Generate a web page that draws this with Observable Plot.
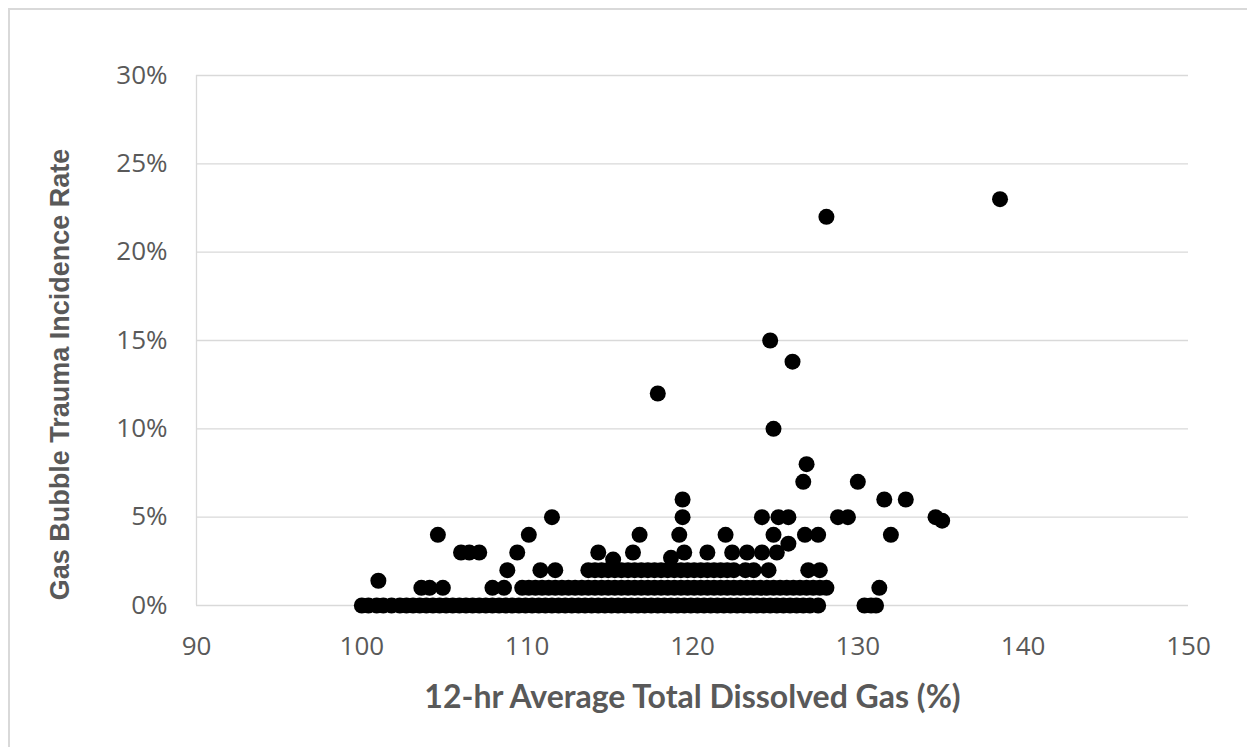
<!DOCTYPE html>
<html><head><meta charset="utf-8">
<script src="https://cdn.jsdelivr.net/npm/d3@7"></script>
<script src="https://cdn.jsdelivr.net/npm/@observablehq/plot@0.6"></script>
<style>
body{margin:0;background:#fff;overflow:hidden;}
#frame{position:absolute;left:8px;top:8px;width:1300px;height:800px;border-left:2px solid #d9d9d9;border-top:2px solid #d9d9d9;}
#chart{position:absolute;left:0;top:0;}
</style></head><body>
<div id="frame"></div><div id="chart"></div>
<script>
const xTicks = [90, 100, 110, 120, 130, 140, 150];
const yTicks = [0, 0.05, 0.10, 0.15, 0.20, 0.25, 0.30];
const xTitle = "12-hr Average Total Dissolved Gas (%)";
const yTitle = "Gas Bubble Trauma Incidence Rate";

// TDG (%) values of points at each incidence level
const tdgAt0 = [100.0,100.4,100.9,101.3,101.8,102.3,102.7,103.1,103.5,103.9,104.3,104.7,105.1,105.5,105.9,106.3,106.7,107.1,107.5,107.9,108.3,108.7,109.1,109.5,109.9,110.3,110.7,111.1,111.5,111.9,112.3,112.7,113.1,113.5,113.9,114.3,114.7,115.1,115.5,115.9,116.3,116.7,117.1,117.5,117.9,118.3,118.7,119.1,119.5,119.9,120.3,120.7,121.1,121.5,121.9,122.3,122.7,123.1,123.5,123.9,124.3,124.7,125.1,125.5,125.9,126.3,126.7,127.1,127.6,130.4,130.8,131.1];
const tdgAt1 = [103.6,104.1,104.9,107.9,108.6,109.7,110.1,110.5,110.9,111.3,111.7,112.1,112.5,112.9,113.3,113.7,114.1,114.5,114.9,115.3,115.7,116.1,116.5,116.9,117.3,117.7,118.1,118.5,118.9,119.3,119.7,120.1,120.5,120.9,121.3,121.7,122.1,122.5,122.9,123.3,123.7,124.1,124.5,124.9,125.3,125.7,126.1,126.5,126.9,127.3,127.7,128.1,131.3];
const tdgAt2 = [108.8,110.8,111.7,113.7,114.1,114.5,114.9,115.3,115.7,116.1,116.5,116.9,117.3,117.7,118.1,118.5,118.9,119.3,119.7,120.1,120.5,120.9,121.3,121.7,122.1,122.5,123.2,123.7,124.6,127.0,127.7];
const tdgAt3 = [106.0,106.5,107.1,109.4,114.3,116.4,119.5,120.9,122.4,123.3,124.2,125.1];
const tdgAt4 = [104.6,110.1,116.8,119.2,122.0,124.9,126.8,127.6,132.0];
const tdgAt5 = [111.5,119.4,124.2,125.2,125.8,128.8,129.4,134.7];
// remaining individual points
const tdgOther  = [101.0,115.2,118.7,125.8,135.1,119.4,131.6,132.9,126.7,130.0,126.9,124.9,117.9,126.05,124.7,128.1,138.6];
const rateOther = [0.014,0.026,0.027,0.035,0.048,0.06,0.06,0.06,0.07,0.07,0.08,0.10,0.12,0.138,0.15,0.22,0.23];

const points = [];
[[tdgAt0,0],[tdgAt1,0.01],[tdgAt2,0.02],[tdgAt3,0.03],[tdgAt4,0.04],[tdgAt5,0.05]].forEach(([xs, r]) => xs.forEach(x => points.push({tdg: x, rate: r})));
tdgOther.forEach((x, i) => points.push({tdg: x, rate: rateOther[i]}));

const grey = "#595959";
const chart = Plot.plot({
  width: 1247, height: 747,
  marginLeft: 196, marginRight: 59, marginTop: 75, marginBottom: 142,
  style: {background: "transparent", color: grey},
  x: {domain: [90, 150], ticks: xTicks},
  y: {domain: [0, 0.30], ticks: yTicks, tickFormat: d3.format(".0%")},
  marks: [
    Plot.gridY(yTicks, {stroke: "#d9d9d9", strokeOpacity: 1, strokeWidth: 1.3}),
    Plot.ruleX([90], {stroke: "#d9d9d9", strokeWidth: 1.3}),
    Plot.dot(points, {x: "tdg", y: "rate", r: 8, fill: "#000", stroke: "none"}),
    Plot.axisX(xTicks, {tickSize: 0, tickPadding: 31, label: null, fontSize: 26, fontFamily: "Open Sans", fill: grey}),
    Plot.axisY(yTicks, {tickSize: 0, tickPadding: 29, label: null, fontSize: 26, fontFamily: "Open Sans", fill: grey, tickFormat: d3.format(".0%")}),
    Plot.text([xTitle], {frameAnchor: "bottom", dy: 92, lineAnchor: "middle", textAnchor: "middle", fontSize: 32, fontWeight: "bold", fontFamily: "Lato", fill: grey}),
    Plot.text([yTitle], {frameAnchor: "left", dx: -136, dy: 34, rotate: -90, lineAnchor: "middle", textAnchor: "middle", fontSize: 27, fontWeight: "bold", fontFamily: "Liberation Sans", fill: grey})
  ]
});
document.getElementById("chart").appendChild(chart);
</script>
</body></html>
